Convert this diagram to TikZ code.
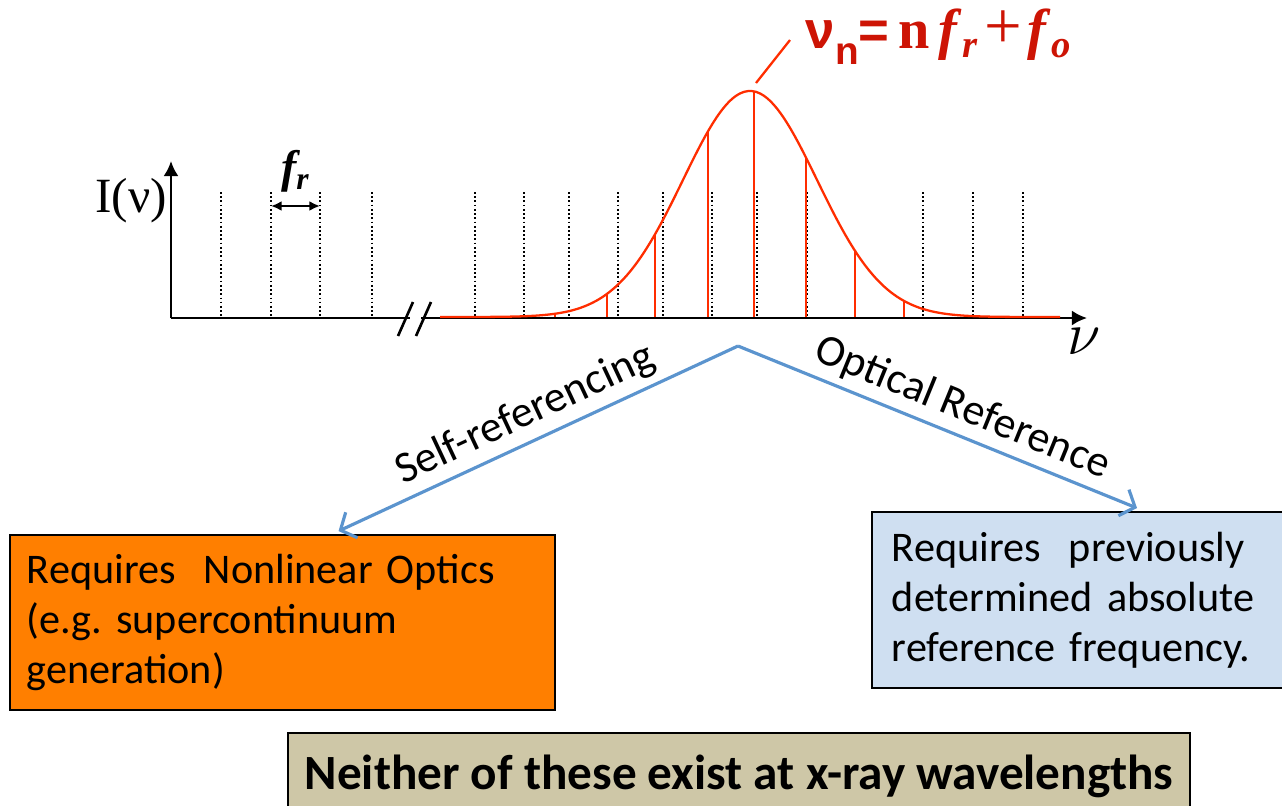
\documentclass[tikz,border=0pt]{standalone}
\usepackage{fontspec}
\setmainfont{Carlito}
\newfontfamily\timesf{Liberation Serif}
\newfontfamily\arialf{Liberation Sans}
\usetikzlibrary{arrows.meta}
\definecolor{combred}{RGB}{255,45,0}
\definecolor{fmlred}{RGB}{205,20,5}
\definecolor{arrblue}{RGB}{91,148,206}
\definecolor{nlorange}{RGB}{255,127,0}
\definecolor{refblue}{RGB}{207,223,241}
\definecolor{boxtan}{RGB}{206,199,167}
\frenchspacing

\begin{document}
\begin{tikzpicture}[>=latex,x=0.01cm,y=-0.01cm]
\tikzstyle{axis}=[line width=0.75pt]
\tikzstyle{tick}=[line width=0.45pt, dash pattern=on 0.5pt off 0.7pt]
\tikzstyle{comb}=[combred, line width=0.65pt]
\tikzstyle{link}=[arrblue, line width=0.9pt, -{Straight Barb[length=3.5pt,width=8pt]}]
\tikzstyle{box}=[draw=black, line width=0.5pt, inner sep=0pt,
font=\fontsize{12}{14.2}\selectfont]
\useasboundingbox (0,0) rectangle (1282,805);

% axes
\coordinate (org) at (171,318);
\coordinate (ytop) at (171,161);
\coordinate (brkl) at (410,318);
\coordinate (brkr) at (421,318);
\coordinate (xend) at (1087,318);
\draw[axis,-{Latex[length=4.3pt,width=4.3pt]}] (org) -- (ytop);
\draw[axis] (org) -- (brkl);
\draw[axis,-{Latex[length=4.3pt,width=4.3pt]}] (brkr) -- (xend);
\draw[axis] (398,336) -- (413,302);
\draw[axis] (416,336) -- (431,302);
\node[font=\timesf\fontsize{14}{14}\selectfont] (ylab) at (131,201) {I(ν)};
\node[font=\fontsize{17}{17}\selectfont] (xlab) at (1084,341) {$\nu$};

% comb lines
\foreach \x in {221,271,320,372,475,524,569,618,663,712,757,807,923,973,1023}
  \draw[tick] (\x,192) -- (\x,318);
\coordinate (fa) at (271,206);
\coordinate (fb) at (320,206);
\draw[line width=0.6pt,{Latex[length=3pt,width=2.8pt]}-{Latex[length=3pt,width=2.8pt]}] (fa) -- (fb);
\node[font=\timesf\bfseries\itshape\fontsize{13}{13}\selectfont] (frlab) at (295,171)
  {f\raisebox{-0.35ex}{\fontsize{9}{9}\selectfont r}};

% spectrum envelope
\draw[comb] plot[domain=440:1060,samples=160,smooth]
  (\x,{317-226*exp(-0.5*((\x-750)/67)^2)});
\foreach \t in {555,607,655,708,754,806,855,904}
  \draw[comb] (\t,317) -- (\t,{317-226*exp(-0.5*((\t-750)/67)^2)});

% mode formula
\coordinate (pk) at (756,83);
\coordinate (ptop) at (790,40);
\draw[comb] (pk) -- (ptop);
\node[anchor=base west, text=fmlred, inner sep=0pt, font=\fontsize{15}{15}\selectfont] (fml) at (805,48)
  {{\arialf\bfseries ν\raisebox{-0.6ex}{\fontsize{11}{11}\selectfont n}=}\,%
   {\timesf\bfseries\fontsize{16}{16}\selectfont n\,\textit{f}\raisebox{-0.35ex}{\fontsize{11}{11}\selectfont\textit{r}}\kern2pt%
   {\mdseries\fontsize{19}{19}\selectfont+}\kern1.5pt\textit{f}\raisebox{-0.35ex}{\fontsize{11}{11}\selectfont\textit{o}}}};

% boxes
\node[box, fill=nlorange, minimum width=5.45cm, minimum height=1.75cm,
  text width=5.11cm, align=left] (nlo) at (282.5,622.5)
  {Requires\ \ Nonlinear Optics\\(e.g. supercontinuum\\generation)};
\node[box, fill=refblue, minimum width=4.18cm, minimum height=1.76cm,
  text width=3.78cm, align=left] (ref) at (1081,600)
  {Requires\ \ previously\\determined absolute\\reference frequency.};
\node[box, fill=boxtan, minimum width=9.02cm, minimum height=0.87cm,
  font=\bfseries\fontsize{14}{16}\selectfont] (xray) at (739,776.5)
  {Neither of these exist at x-ray wavelengths};

% two routes
\coordinate (apex) at (738,346);
\draw[link] (apex) -- ([xshift=0.56cm,yshift=0.03cm]nlo.north);
\draw[link] (apex) -- ([xshift=0.56cm,yshift=0.03cm]ref.north);
\node[anchor=base, rotate=25.1, font=\fontsize{12.5}{14}\selectfont] (selflab) at (530,425) {Self-referencing};
\node[anchor=base, rotate=-22.2, font=\fontsize{12.5}{14}\selectfont] (optlab) at (958,419) {Optical Reference};

\end{tikzpicture}
\end{document}
